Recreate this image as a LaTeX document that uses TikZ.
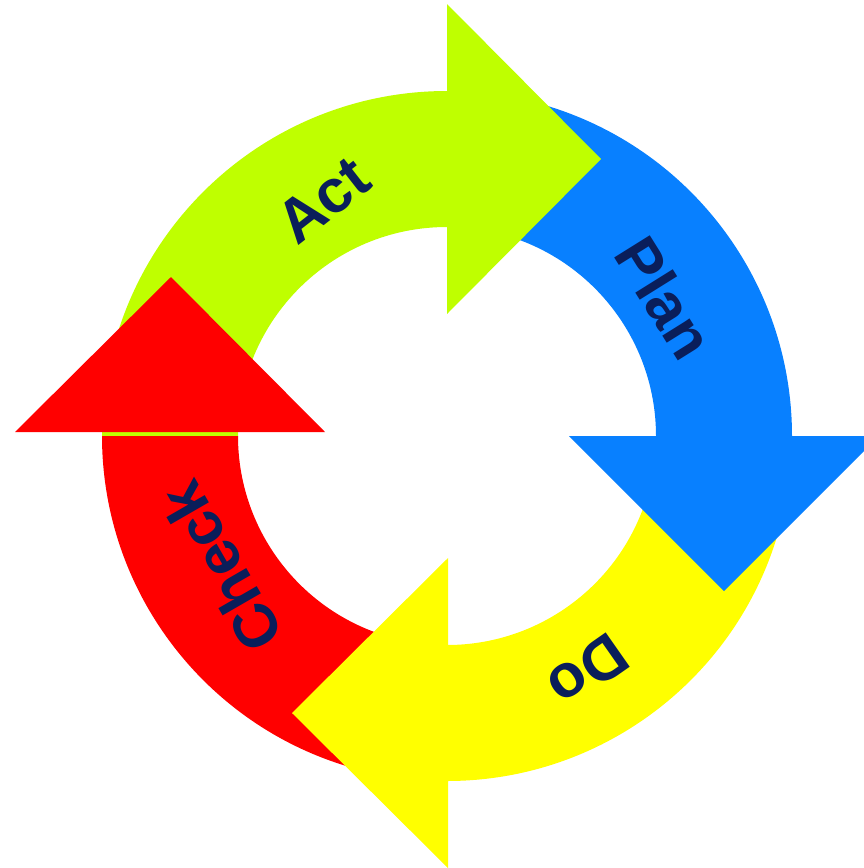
\documentclass[tikz,border=0pt]{standalone}
\usepackage{fontspec}
\setmainfont{Liberation Sans}
\usetikzlibrary{calc}
\definecolor{actgreen}{RGB}{191,255,0}
\definecolor{planblue}{RGB}{8,128,255}
\definecolor{doyellow}{RGB}{255,255,0}
\definecolor{checkred}{RGB}{255,0,0}
\definecolor{labelnavy}{RGB}{10,30,90}
\newcommand\pdcaband[3]{%
  \fill[#1] ($(c)+(#2:345)$) arc[start angle=#2, end angle=#3, radius=345pt]
    -- ($(c)+(#3:209)$) arc[start angle=#3, end angle=#2, radius=209pt] -- cycle;}
\begin{document}
\begin{tikzpicture}[x=1pt,y=1pt,
  lbl/.style={text=labelnavy, font=\fontsize{61}{64}\selectfont\bfseries, inner sep=0pt}]
\useasboundingbox (0,0) rectangle (864,-868);
\clip (0,0) rectangle (864,-868);
\coordinate (c) at (447,-436);
% bands
\pdcaband{actgreen}{180}{90}
\pdcaband{planblue}{78}{0}
\pdcaband{doyellow}{-10}{-90}
\pdcaband{checkred}{-100}{-180}
% heads
\coordinate (g1) at ($(c)+(0,122)$);
\coordinate (g2) at ($(c)+(0,432)$);
\coordinate (gt) at ($(c)+(154,277)$);
\coordinate (b1) at ($(c)+(122,0)$);
\coordinate (b2) at ($(c)+(432,0)$);
\coordinate (bt) at ($(c)+(277,-155)$);
\coordinate (y1) at ($(c)+(1,-122)$);
\coordinate (y2) at ($(c)+(1,-432)$);
\coordinate (yt) at ($(c)+(-155,-277)$);
\coordinate (r1) at ($(c)+(-122,4)$);
\coordinate (r2) at ($(c)+(-432,4)$);
\coordinate (rt) at ($(c)+(-276,159)$);
\fill[actgreen] (g1) -- (g2) -- (gt) -- cycle;
\fill[planblue] (b1) -- (b2) -- (bt) -- cycle;
\fill[doyellow] (y1) -- (y2) -- (yt) -- cycle;
\fill[checkred] (r1) -- (r2) -- (rt) -- cycle;
% labels
\node[lbl, rotate=38] (act) at (323,-200) {Act};
\node[lbl, rotate=-58] (plan) at (665,-298) {Plan};
\node[lbl, rotate=-145] (do) at (588,-671) {Do};
\node[lbl, rotate=120] (check) at (221,-567) {Check};
\end{tikzpicture}
\end{document}
